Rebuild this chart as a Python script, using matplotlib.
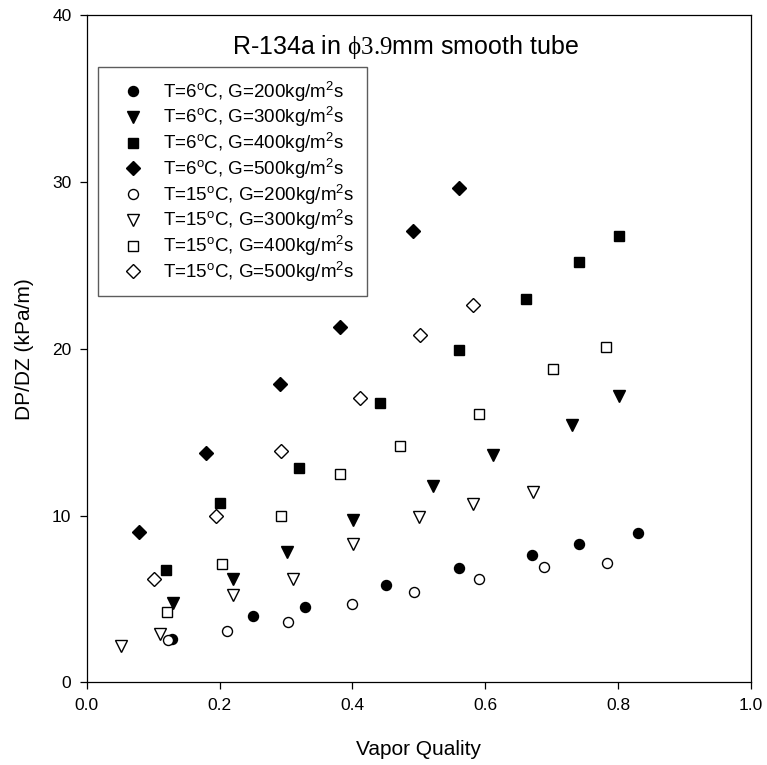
import numpy as np
import matplotlib.pyplot as plt

plt.rcParams['font.family'] = ['Liberation Sans', 'DejaVu Sans']
plt.rcParams['mathtext.fontset'] = 'custom'
plt.rcParams['mathtext.rm'] = 'Liberation Sans'
plt.rcParams['mathtext.tt'] = 'Liberation Serif'

# T=6C series
x_6_200 = [0.128, 0.25, 0.329, 0.45, 0.56, 0.67, 0.741, 0.83]
y_6_200 = [2.60, 3.98, 4.54, 5.84, 6.84, 7.64, 8.28, 8.94]
x_6_300 = [0.13, 0.22, 0.301, 0.401, 0.521, 0.612, 0.731, 0.802]
y_6_300 = [4.74, 6.22, 7.80, 9.74, 11.80, 13.62, 15.42, 17.17]
x_6_400 = [0.12, 0.20, 0.32, 0.441, 0.56, 0.661, 0.741, 0.802]
y_6_400 = [6.76, 10.74, 12.88, 16.77, 19.93, 23.0, 25.2, 26.79]
x_6_500 = [0.079, 0.18, 0.291, 0.381, 0.491, 0.56]
y_6_500 = [9.04, 13.74, 17.88, 21.33, 27.09, 29.63]

# T=15C series
x_15_200 = [0.122, 0.211, 0.303, 0.399, 0.493, 0.59, 0.688, 0.783]
y_15_200 = [2.54, 3.10, 3.64, 4.70, 5.44, 6.20, 6.94, 7.18]
x_15_300 = [0.051, 0.11, 0.22, 0.311, 0.401, 0.50, 0.582, 0.672]
y_15_300 = [2.20, 2.90, 5.24, 6.22, 8.28, 9.94, 10.68, 11.40]
x_15_400 = [0.121, 0.204, 0.293, 0.381, 0.472, 0.591, 0.702, 0.782]
y_15_400 = [4.24, 7.10, 10.0, 12.48, 14.18, 16.1, 18.8, 20.13]
x_15_500 = [0.102, 0.195, 0.292, 0.411, 0.502, 0.582]
y_15_500 = [6.22, 9.98, 13.88, 17.07, 20.80, 22.65]

labels = [
    r'T=6$^{\rm o}$C, G=200kg/m$^{\rm 2}$s',
    r'T=6$^{\rm o}$C, G=300kg/m$^{\rm 2}$s',
    r'T=6$^{\rm o}$C, G=400kg/m$^{\rm 2}$s',
    r'T=6$^{\rm o}$C, G=500kg/m$^{\rm 2}$s',
    r'T=15$^{\rm o}$C, G=200kg/m$^{\rm 2}$s',
    r'T=15$^{\rm o}$C, G=300kg/m$^{\rm 2}$s',
    r'T=15$^{\rm o}$C, G=400kg/m$^{\rm 2}$s',
    r'T=15$^{\rm o}$C, G=500kg/m$^{\rm 2}$s',
]

fig = plt.figure(figsize=(7.67, 7.65), dpi=100)
ax = fig.add_axes([0.113, 0.108, 0.866, 0.872])

series = [
    (x_6_200, y_6_200, 'o', 'black', 7.2),
    (x_6_300, y_6_300, 'v', 'black', 8.5),
    (x_6_400, y_6_400, 's', 'black', 7.8),
    (x_6_500, y_6_500, 'D', 'black', 6.8),
    (x_15_200, y_15_200, 'o', 'white', 7.2),
    (x_15_300, y_15_300, 'v', 'white', 8.5),
    (x_15_400, y_15_400, 's', 'white', 7.8),
    (x_15_500, y_15_500, 'D', 'white', 6.8),
]
for (x, y, m, fc, ms), lab in zip(series, labels):
    ax.plot(x, y, linestyle='none', marker=m, markersize=ms,
            markerfacecolor=fc, markeredgecolor='black', markeredgewidth=1.0,
            label=lab)

ax.set_xlim(0, 1.0)
ax.set_ylim(0, 40)
ax.set_xticks(np.arange(0, 1.01, 0.2))
ax.set_yticks([0, 10, 20, 30, 40])
ax.set_xticklabels(['0.0', '0.2', '0.4', '0.6', '0.8', '1.0'])
ax.tick_params(direction='out', length=5, width=0.9, labelsize=12.5,
               top=False, right=False, pad=6)
for s in ax.spines.values():
    s.set_linewidth(0.9)

ax.set_xlabel('Vapor Quality', fontsize=15, labelpad=20)
ax.set_ylabel('DP/DZ (kPa/m)', fontsize=15, labelpad=13)

ax.text(0.48, 0.952, r'R-134a in $\mathtt{ϕ3.9}$mm smooth tube',
        transform=ax.transAxes, ha='center', va='center', fontsize=18)

leg = ax.legend(loc='upper left', bbox_to_anchor=(0.017, 0.923),
                borderaxespad=0, fontsize=13.5, frameon=True, fancybox=False,
                numpoints=1, handlelength=2.4, handletextpad=0.43,
                labelspacing=0.05, borderpad=0.65)
leg.get_frame().set_edgecolor('#333333')
leg.get_frame().set_linewidth(1.0)

plt.savefig('out.png', dpi=100)
